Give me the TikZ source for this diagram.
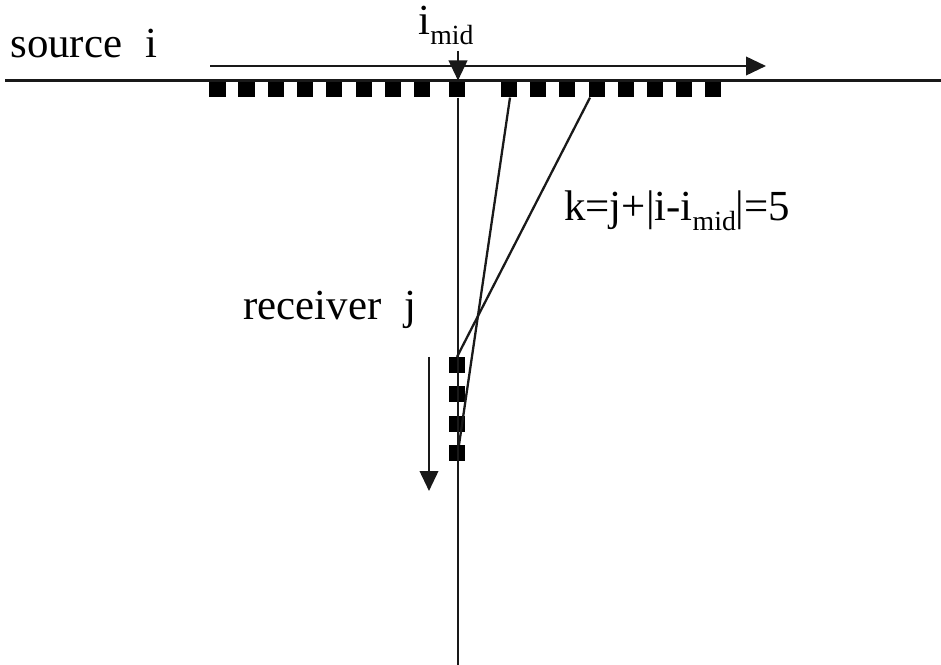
\documentclass[tikz,border=0pt]{standalone}
\usepackage{fontspec}
\setmainfont{Liberation Serif}
\usetikzlibrary{arrows.meta, positioning, calc}
\newcommand{\midsub}{\raisebox{-0.22em}{\fontsize{15.8}{15.8}\selectfont mid}}

\begin{document}
\begin{tikzpicture}[
    x=0.02cm, y=-0.02cm,
    sensor/.style={draw=none, fill=black, inner sep=0pt, minimum width=0.33cm, minimum height=0.31cm},
    ln/.style={line width=1.3pt, black!90},
    arr/.style={-{Triangle[length=0.4cm, width=0.37cm]}, line width=1.3pt, black!90},
    txt/.style={anchor=base west, inner sep=0pt, font=\fontsize{24.4}{26}\selectfont},
]
\useasboundingbox (0,0) rectangle (941,665);

\coordinate (surfL) at (5,80.5);
\coordinate (surfR) at (941,80.5);
\coordinate (wellB) at (458,665);
\coordinate (srcA) at (210,66);
\coordinate (srcB) at (766,66);
\coordinate (midA) at (458,51);
\coordinate (recA) at (429,357);
\coordinate (recB) at (429,491);

% receivers and sources
\foreach \n/\x in {1/217.5,2/246.7,3/276,4/305,5/334,6/364,7/393,8/422,9/457,10/509,11/538,12/567,13/597,14/626,15/655,16/684,17/713}
    \node[sensor] (s\n) at (\x,89.5) {};
\foreach \n/\y in {1/365,2/394,3/424,4/453}
    \node[sensor] (r\n) at (457,\y) {};

\draw[ln] (surfL) -- (surfR);
\draw[ln] ($(s9.south)+(1,0)$) -- (wellB);
\draw[arr] (srcA) -- (srcB);
\draw[arr] (midA) -- (midA |- surfL);
\draw[arr] (recA) -- (recB);
\draw[ln] ($(s10.south)+(1,0)$) -- ($(r4.north)+(2,0)$);
\draw[ln] ($(s13.south)+(-7,0)$) -- (r1.north);

\node[txt] (source) at (10,57.5) {source\hspace{0.3em} i};
\node[txt] (imid) at (418,35) {i\midsub};
\node[txt] (offset) at (564,221) {k=j+|i-i\midsub|=5};
\node[txt] (receiver) at (243,319.5) {receiver\hspace{0.3em} j};

\end{tikzpicture}
\end{document}
